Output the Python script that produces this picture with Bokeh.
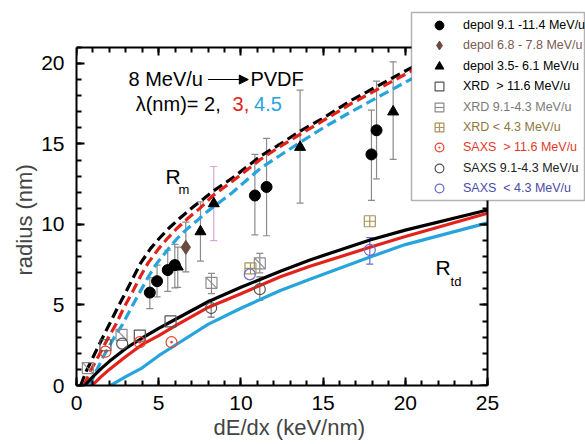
from bokeh.plotting import figure
from bokeh.models import (ColumnDataSource, Whisker, TeeHead, Legend, LegendItem,
                          Label, Arrow, NormalHead, BoxAnnotation, LinearAxis, Title,
                          SingleIntervalTicker, CustomJSTickFormatter)
from bokeh.embed import file_html
from bokeh.resources import INLINE
import math

FONT = "Liberation Sans"

# ---- model curves: track radius R_m (dashed) and R_td (solid), lambda = 2, 3, 4.5 nm
rm2_x = [0.25, 0.6, 1.05, 1.6, 2.0, 2.47, 3.0, 3.5, 3.9, 4.5, 5.0, 5.6, 6.3, 7.05, 8.3, 9.5,
         11.2, 12.4, 13.6, 15.0, 16.7, 18.5, 20.3, 22.0, 25.0]
rm2_y = [0.0, 0.9, 1.85, 3.0, 3.8, 4.77, 5.8, 6.8, 7.6, 8.5, 9.1, 9.75, 10.4, 11.05, 12.06, 12.9,
         14.25, 15.0, 15.8, 16.6, 17.7, 18.7, 19.7, 20.6, 22.1]
rm3_x = [0.45, 0.85, 1.35, 1.95, 2.4, 2.85, 3.4, 3.9, 4.35, 5.0, 5.5, 6.1, 6.8, 7.5, 8.3, 9.5,
         11.2, 12.4, 13.6, 15.0, 16.7, 18.5, 20.3, 22.0, 25.0]
rm3_y = [0.0, 0.9, 1.85, 3.0, 3.8, 4.77, 5.8, 6.8, 7.6, 8.5, 9.1, 9.75, 10.4, 11.0, 11.8, 12.7,
         14.05, 14.85, 15.6, 16.45, 17.5, 18.5, 19.5, 20.4, 21.9]
rm45_x = [0.8, 1.2, 1.66, 2.3, 2.8, 3.3, 3.85, 4.4, 4.9, 5.6, 6.1, 6.7, 7.4, 7.95, 9.5,
          11.2, 12.4, 13.6, 15.0, 16.7, 18.5, 20.3, 22.0, 25.0]
rm45_y = [0.0, 0.9, 1.85, 3.0, 3.8, 4.77, 5.8, 6.8, 7.6, 8.5, 9.1, 9.7, 10.3, 10.8, 12.0,
          13.5, 14.3, 15.1, 16.0, 17.0, 18.0, 19.0, 19.9, 21.4]

rtd2_x = [0.5, 1.0, 1.5, 2.0, 3.0, 4.0, 5.0, 6.0, 8.0, 10.0, 12.4, 14.2, 17.9, 20.0, 25.0]
rtd2_y = [0.0, 0.55, 1.05, 1.5, 2.3, 2.95, 3.55, 4.1, 5.2, 6.1, 7.1, 7.8, 9.05, 9.65, 10.9]
rtd3_x = [0.95, 1.5, 2.0, 3.0, 4.0, 5.0, 6.0, 8.0, 10.0, 12.4, 14.2, 17.9, 20.0, 25.0]
rtd3_y = [0.0, 0.55, 1.0, 1.8, 2.55, 3.1, 3.7, 4.85, 5.7, 6.75, 7.4, 8.6, 9.25, 10.7]
rtd45_x = [2.07, 3.0, 4.0, 5.0, 6.0, 8.0, 10.0, 12.4, 14.2, 17.9, 20.0, 25.0]
rtd45_y = [0.0, 0.55, 1.1, 1.85, 2.5, 3.8, 4.8, 5.9, 6.6, 8.0, 8.75, 10.1]

# ---- measurements
depol_hi_x = [4.46, 4.9, 5.55, 5.98, 10.85, 11.56, 17.94, 18.25]
depol_hi_y = [5.77, 6.48, 7.17, 7.48, 11.8, 12.33, 14.35, 15.85]
depol_hi_lo = [4.77, 5.5, 5.85, 6.06, 9.35, 9.3, 11.5, 12.83]
depol_hi_up = [6.7, 7.48, 8.4, 8.77, 14.35, 15.35, 17.1, 18.9]

depol_mid_x = [6.65]
depol_mid_y = [8.58]
depol_mid_lo = [7.06]
depol_mid_up = [10.15]

depol_lo_x = [6.16, 7.54, 8.35, 13.6, 19.26]
depol_lo_y = [7.37, 9.56, 11.3, 14.8, 17.0]
depol_lo_lo = [6.1, 7.73, 9.0, 11.33, 14.04]
depol_lo_up = [8.6, 11.4, 13.6, 18.35, 20.1]
depol_lo_errcolor = ["#8c8c8c", "#8c8c8c", "#d9a6d6", "#8c8c8c", "#8c8c8c"]

xrd_hi_x = [1.76, 3.85, 5.72]
xrd_hi_y = [2.5, 3.1, 3.98]

xrd_mid_x = [0.69, 2.74, 8.21, 11.15]
xrd_mid_y = [1.08, 3.15, 6.375, 7.58]
xrd_mid_err_x = [8.21, 11.15]
xrd_mid_err_lo = [5.7, 7.0]
xrd_mid_err_up = [6.96, 8.2]

xrd_lo_x = [10.58, 17.84]
xrd_lo_y = [7.27, 10.2]

saxs_hi_x = [1.76, 3.85, 5.78]
saxs_hi_y = [2.1, 2.69, 2.69]

saxs_mid_x = [2.78, 8.19, 11.15]
saxs_mid_y = [2.6, 4.81, 5.98]
saxs_mid_err_x = [8.19, 11.15]
saxs_mid_err_lo = [4.25, 5.3]
saxs_mid_err_up = [5.3, 6.75]

saxs_lo_x = [10.54, 17.84]
saxs_lo_y = [6.9, 8.42]
saxs_lo_err_x = [17.84]
saxs_lo_err_lo = [7.54]
saxs_lo_err_up = [9.19]

legend_labels = ["depol 9.1 -11.4 MeV/u", "depol 6.8 - 7.8 MeV/u", "depol 3.5- 6.1 MeV/u",
                 "XRD  > 11.6 MeV/u", "XRD 9.1-4.3 MeV/u", "XRD < 4.3 MeV/u",
                 "SAXS  > 11.6 MeV/u", "SAXS 9.1-4.3 MeV/u", "SAXS  < 4.3 MeV/u"]

X_MAX, Y_MAX = 25, 21
BLACK, RED, BLUE = "#000000", "#e3231b", "#27a4dd"

# The frame reaches the canvas edge at top/right so the legend box can sit
# over the corner; the axes themselves are bounded to 0..25 and 0..21.
p = figure(width=585, height=444, x_range=(0, 30.96), y_range=(0, 23.6),
           output_backend="svg", toolbar_location=None,
           min_border_left=76, min_border_right=0, min_border_top=5, min_border_bottom=59,
           background_fill_color="white", border_fill_color="white")
p.grid.visible = False
p.outline_line_color = None


def style_axis(ax, bounds):
    ax.bounds = bounds
    ax.ticker = SingleIntervalTicker(interval=5, num_minor_ticks=5)
    ax.axis_line_width = 2
    ax.axis_line_color = "black"
    ax.major_tick_in = 8
    ax.major_tick_out = 0
    ax.minor_tick_in = 5
    ax.minor_tick_out = 0
    ax.major_tick_line_width = 2
    ax.minor_tick_line_width = 2
    ax.major_label_text_font = FONT
    ax.major_label_text_font_size = "21px"
    ax.major_label_text_color = "black"


style_axis(p.xaxis[0], (0, X_MAX))
style_axis(p.yaxis[0], (0, Y_MAX))
p.xaxis.major_label_standoff = 10
p.yaxis.major_label_standoff = 12

# tick-only spines at x = 25 and y = 21
blank = CustomJSTickFormatter(code="return ''")
top_ax = LinearAxis(formatter=blank, fixed_location=Y_MAX)
right_ax = LinearAxis(formatter=blank, fixed_location=X_MAX)
style_axis(top_ax, (0, X_MAX))
style_axis(right_ax, (0, Y_MAX))
for ax in (top_ax, right_ax):
    ax.major_label_text_font_size = "0px"
    ax.major_label_standoff = 0
p.add_layout(top_ax, "above")
p.add_layout(right_ax, "right")

# axis titles
p.add_layout(Title(text="dE/dx (keV/nm)", align="left", offset=137, text_font=FONT,
                   text_font_size="22px", text_font_style="normal", standoff=0), "below")
p.add_layout(Title(text="radius (nm)", align="left", offset=110, text_font=FONT,
                   text_font_size="22px", text_font_style="normal", standoff=4), "left")

# model curves
for xs, ys, c in [(rm2_x, rm2_y, BLACK), (rm3_x, rm3_y, RED), (rm45_x, rm45_y, BLUE)]:
    p.line(xs, ys, line_color=c, line_width=3.2, line_dash="10 5")
for xs, ys, c in [(rtd45_x, rtd45_y, BLUE), (rtd3_x, rtd3_y, RED), (rtd2_x, rtd2_y, BLACK)]:
    p.line(xs, ys, line_color=c, line_width=3.2)


def errbars(xs, lo, up, color):
    src = ColumnDataSource(dict(x=xs, lo=lo, up=up))
    p.add_layout(Whisker(source=src, base="x", lower="lo", upper="up", dimension="height",
                         line_color=color, line_width=1.2, level="underlay",
                         lower_head=TeeHead(size=7, line_color=color, line_width=1.2),
                         upper_head=TeeHead(size=7, line_color=color, line_width=1.2)))


errbars(depol_hi_x, depol_hi_lo, depol_hi_up, "#8c8c8c")
errbars(depol_mid_x, depol_mid_lo, depol_mid_up, "#8c8080")
for i in range(len(depol_lo_x)):
    errbars([depol_lo_x[i]], [depol_lo_lo[i]], [depol_lo_up[i]], depol_lo_errcolor[i])
errbars(xrd_mid_err_x, xrd_mid_err_lo, xrd_mid_err_up, "#8c8c8c")
errbars(saxs_mid_err_x, saxs_mid_err_lo, saxs_mid_err_up, "#777777")
errbars(saxs_lo_err_x, saxs_lo_err_lo, saxs_lo_err_up, "#6a6ad0")

# markers
r_dh = p.scatter(depol_hi_x, depol_hi_y, marker="circle", size=11, fill_color="black", line_color="black")
r_dm = p.scatter(depol_mid_x, depol_mid_y, marker="diamond", size=14, fill_color="#6b4a3f", line_color="#6b4a3f")
r_dl = p.scatter(depol_lo_x, depol_lo_y, marker="triangle", size=11, fill_color="black", line_color="black")
r_xh = p.scatter(xrd_hi_x, xrd_hi_y, marker="square", size=11, fill_color=None, line_color="#555555", line_width=1.2)
r_xm = p.scatter(xrd_mid_x, xrd_mid_y, marker="square", size=11, fill_color=None, line_color="#8c8c8c", line_width=1.2)
r_xm2 = p.scatter(xrd_mid_x, xrd_mid_y, marker="dash", size=15.5, angle=-math.pi / 4, line_color="#8c8c8c", line_width=1.2)
r_xl = p.scatter(xrd_lo_x, xrd_lo_y, marker="square_cross", size=11, fill_color=None, line_color="#a8945a", line_width=1.2)
r_sh = p.scatter(saxs_hi_x, saxs_hi_y, marker="circle_dot", size=11, fill_color=None, line_color="#e8432f", line_width=1.2)
r_sm = p.scatter(saxs_mid_x, saxs_mid_y, marker="circle", size=11, fill_color=None, line_color="#555555", line_width=1.2)
r_sl = p.scatter(saxs_lo_x, saxs_lo_y, marker="circle", size=11, fill_color=None, line_color="#6a6ad0", line_width=1.2)


def label(x, y, text, size="20px", color="black"):
    p.add_layout(Label(x=x, y=y, text=text, text_font=FONT, text_font_size=size,
                       text_color=color, text_baseline="middle", text_align="left"))


label(3.16, 19.06, "8 MeV/u")
p.add_layout(Arrow(x_start=8.0, y_start=19.0, x_end=10.45, y_end=19.0, line_width=1.1,
                   end=NormalHead(size=9, fill_color="black", line_color="black")))
label(10.58, 19.06, "PVDF")
label(3.6, 17.5, "λ(nm)= 2,")
label(9.49, 17.5, "3,", color=RED)
label(10.8, 17.5, "4.5", color=BLUE)
label(5.41, 13.0, "R", size="21px")
label(6.2, 12.15, "m", size="13px")
label(21.84, 7.31, "R", size="21px")
label(22.75, 6.44, "td", size="13px")

# legend box (screen units, measured from the frame's left/bottom)
p.add_layout(BoxAnnotation(left=335, right=508, top=373, bottom=185,
                           left_units="screen", right_units="screen",
                           top_units="screen", bottom_units="screen",
                           fill_color="white", fill_alpha=1.0,
                           line_color="black", line_width=1.5))

legend_rows = [
    ([r_dh], "black"), ([r_dm], "#7b5a50"), ([r_dl], "black"),
    ([r_xh], "black"), ([r_xm, r_xm2], "#7a7a7a"), ([r_xl], "#8c7a3c"),
    ([r_sh], "#e03a2a"), ([r_sm], "#222222"), ([r_sl], "#4a4aa8"),
]
for i, ((rends, tcolor), text) in enumerate(zip(legend_rows, legend_labels)):
    yc = 24.7 + i * 20.45
    p.add_layout(Legend(items=[LegendItem(label=text, renderers=rends)],
                        location=(352, 374 - yc), orientation="vertical",
                        glyph_width=22, glyph_height=22, label_height=22, label_standoff=13,
                        padding=0, margin=0, spacing=0,
                        border_line_color=None, background_fill_alpha=0,
                        label_text_font=FONT, label_text_font_size="12.5px",
                        label_text_color=tcolor))

open("out.html", "w").write(file_html(p, INLINE))
